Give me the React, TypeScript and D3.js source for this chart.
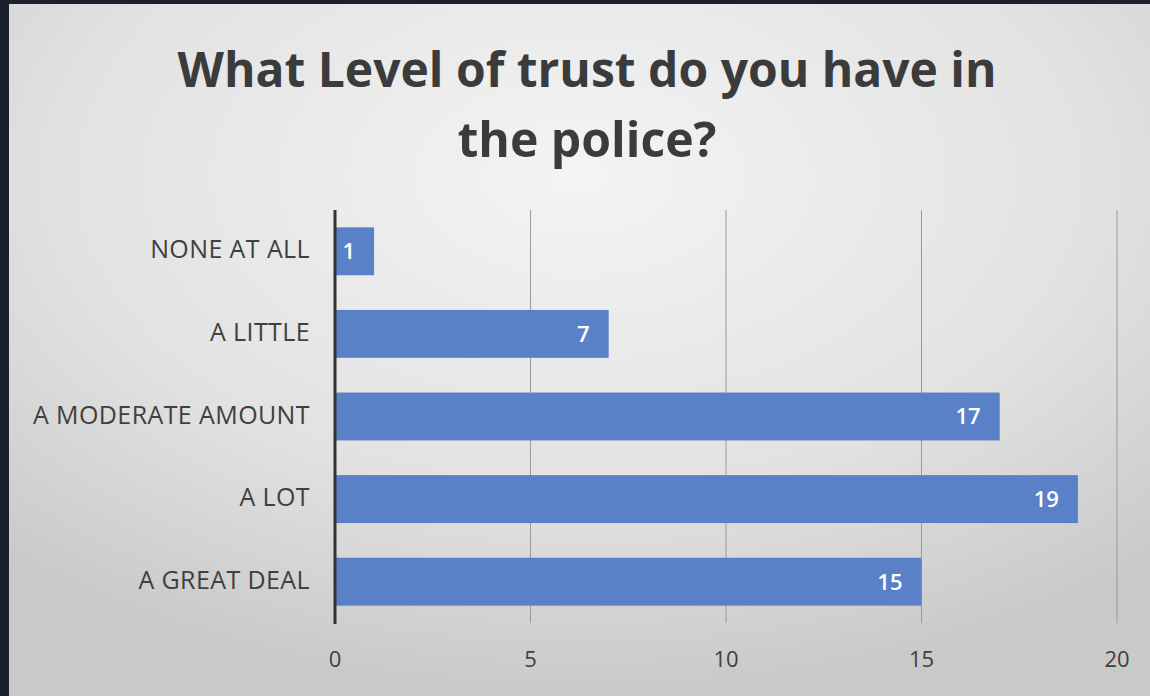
import React from "react";
import * as d3 from "d3";

const categories = ["NONE AT ALL", "A LITTLE", "A MODERATE AMOUNT", "A LOT", "A GREAT DEAL"];
const values = [1, 7, 17, 19, 15];
const xTicks = [0, 5, 10, 15, 20];
const titleLines = ["What Level of trust do you have in", "the police?"];

const W = 1150;
const H = 696;

export default function App() {
  const x = d3.scaleLinear().domain([0, 20]).range([335, 1117]);
  const y = d3.scaleBand<string>().domain(categories).range([210, 623]).paddingInner(0.42).paddingOuter(0.21);
  const font = "'Open Sans', 'Noto Sans', sans-serif";
  return (
    <div style={{ position: "fixed", left: 0, top: 0, width: W, height: H, background: "#1b202d" }}>
      <svg width={W} height={H} style={{ display: "block" }}>
        <defs>
          <radialGradient id="bg" cx="0.5" cy="0.25" r="0.75">
            <stop offset="0" stopColor="#f4f4f4" />
            <stop offset="0.6" stopColor="#e2e2e2" />
            <stop offset="1" stopColor="#c9c9c9" />
          </radialGradient>
        </defs>
        <rect x={9} y={4} width={W - 9} height={H - 4} fill="url(#bg)" />
        {titleLines.map((t, i) => (
          <text key={t} x={587} y={87 + i * 70} textAnchor="middle" fontFamily={font} fontWeight={700}
            fontSize={48} fill="#3b3b3b" textLength={i === 0 ? 819 : 259} lengthAdjust="spacingAndGlyphs">
            {t}
          </text>
        ))}
        {xTicks.filter(t => t > 0).map(t => (
          <line key={t} x1={x(t)} x2={x(t)} y1={210} y2={623} stroke="#9a9a9a" strokeWidth={1} />
        ))}
        {categories.map((c, i) => (
          <g key={c}>
            <rect x={x(0)} y={y(c)} width={x(values[i]) - x(0)} height={y.bandwidth()} fill="#5a80c8" />
            <text x={x(values[i]) - 19} y={(y(c) as number) + y.bandwidth() / 2} dy="0.36em" textAnchor="end"
              fontFamily={font} fontSize={22} fontWeight={600} fill="#ffffff">
              {values[i]}
            </text>
            <text x={310} y={(y(c) as number) + y.bandwidth() / 2 - 2} dy="0.36em" textAnchor="end"
              fontFamily={font} fontSize={25} fill="#404040" letterSpacing={0.4}>
              {c}
            </text>
          </g>
        ))}
        <line x1={x(0)} x2={x(0)} y1={210} y2={624} stroke="#333" strokeWidth={3} />
        {xTicks.map(t => (
          <text key={t} x={x(t)} y={659} dy="0.36em" textAnchor="middle" fontFamily={font} fontSize={22} fill="#404040">
            {t}
          </text>
        ))}
      </svg>
    </div>
  );
}
